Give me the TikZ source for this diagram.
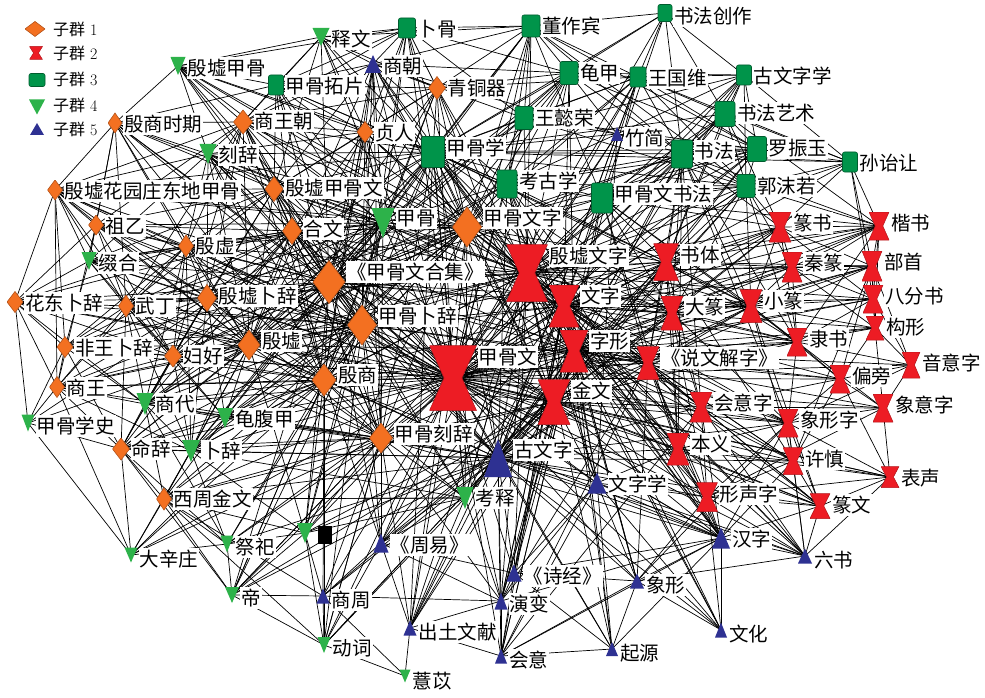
\documentclass[tikz,border=0pt]{standalone}
\usepackage{fontspec}
\newfontfamily\cjk{Noto Sans CJK SC}
\usetikzlibrary{calc,backgrounds}
\definecolor{qorange}{HTML}{F37021}
\definecolor{qorangedk}{HTML}{B4531A}
\definecolor{qred}{HTML}{ED1C24}
\definecolor{qgreen}{HTML}{00944A}
\definecolor{qgreendk}{HTML}{005C2E}
\definecolor{qlime}{HTML}{2DB24A}
\definecolor{qblue}{HTML}{2E3192}
\tikzset{
	mk/.style 2 args={inner sep=0pt, outer sep=0pt, minimum width=#1pt, minimum height=#2pt},
	dmd/.style 2 args={mk={#1}{#2}, path picture={\fill[qorange, draw=qorangedk, line width=0.6pt] (path picture bounding box.north) -- (path picture bounding box.east) -- (path picture bounding box.south) -- (path picture bounding box.west) -- cycle;}},
	hgl/.style 2 args={mk={#1}{#2}, path picture={\fill[qred, draw=qred!75!black, line width=0.5pt] (path picture bounding box.north west) -- (path picture bounding box.north east) -- ($(path picture bounding box.center)!.38!(path picture bounding box.east)$) -- (path picture bounding box.south east) -- (path picture bounding box.south west) -- ($(path picture bounding box.center)!.38!(path picture bounding box.west)$) -- cycle;}},
	sqr/.style 2 args={mk={#1}{#2}, fill=qgreen, draw=qgreendk, line width=0.6pt, rounded corners=2pt},
	dtri/.style 2 args={mk={#1}{#2}, path picture={\fill[qlime] (path picture bounding box.north west) -- (path picture bounding box.north east) -- (path picture bounding box.south) -- cycle;}},
	utri/.style 2 args={mk={#1}{#2}, path picture={\fill[qblue] (path picture bounding box.south west) -- (path picture bounding box.south east) -- (path picture bounding box.north) -- cycle;}},
	lab/.style={fill=white, inner xsep=1pt, inner ysep=2pt, anchor=north west, font=\cjk\fontsize{19.5}{19.5}\selectfont},
	legt/.style={anchor=west, inner sep=0pt, font=\fontsize{16}{16}\selectfont},
	lnk/.style={line width=0.7pt, black}
}
\def\lbl(#1)#2{\node[lab] (#1-t) at ([xshift=1pt]#1.north east) {#2};}

\begin{document}
\begin{tikzpicture}[x=1pt,y=-1pt]
	%%%%% START %%%%%
	\useasboundingbox (0,0) rectangle (985,698);
	
	% legend
	\node[dmd={20}{15}] (lg1) at (35,29) {};
	\node[hgl={13}{13}] (lg2) at (36,53) {};
	\node[sqr={16}{13}] (lg3) at (37,80) {};
	\node[dtri={16}{15}] (lg4) at (37,107) {};
	\node[utri={14}{12}] (lg5) at (37,129) {};
	\node[legt] (lg1-t) at (53,29) {{\cjk 子群} 1};
	\node[legt] (lg2-t) at (53,53) {{\cjk 子群} 2};
	\node[legt] (lg3-t) at (53,79) {{\cjk 子群} 3};
	\node[legt] (lg4-t) at (53,105) {{\cjk 子群} 4};
	\node[legt] (lg5-t) at (53,129) {{\cjk 子群} 5};
	
	% subgroup 1
	\node[dmd={14}{20}] (ysqs) at (115,123) {};
	\node[dmd={19}{24}] (swc) at (243,122) {};
	\node[dmd={17}{23}] (qtq) at (437,88) {};
	\node[dmd={16}{21}] (zr) at (365,132) {};
	\node[dmd={15}{20}] (hyz) at (55,190) {};
	\node[dmd={18}{25}] (yxjgw) at (274,189) {};
	\node[dmd={15}{20}] (zy) at (96,225) {};
	\node[dmd={19}{27}] (hw) at (292,231) {};
	\node[dmd={29}{40}] (jgwz) at (467,227) {};
	\node[dmd={15}{22}] (yxu) at (186,246) {};
	\node[dmd={32}{43}] (hj) at (329,282) {};
	\node[dmd={19}{27}] (yxbc) at (207,298) {};
	\node[dmd={15}{22}] (wd) at (126,306) {};
	\node[dmd={16}{21}] (hdbc) at (15,302) {};
	\node[dmd={29}{40}] (jgbc) at (362,325) {};
	\node[dmd={16}{21}] (fwbc) at (65,347) {};
	\node[dmd={22}{30}] (yx) at (249,345) {};
	\node[dmd={17}{22}] (fh) at (173,356) {};
	\node[dmd={24}{32}] (ys) at (324,380) {};
	\node[dmd={15}{21}] (shw) at (57,387) {};
	\node[dmd={23}{30}] (jgkc) at (381,438) {};
	\node[dmd={17}{22}] (mc) at (121,449) {};
	\node[dmd={15}{22}] (xzjw) at (164,499) {};
	
	% subgroup 2
	\node[hgl={47}{65}] (jgw) at (453,378) {};
	\node[hgl={41}{57}] (yxwz) at (527,273) {};
	\node[hgl={30}{42}] (wz) at (564,306) {};
	\node[hgl={28}{42}] (zx) at (574,351) {};
	\node[hgl={32}{45}] (jw) at (554,402) {};
	\node[hgl={25}{37}] (st) at (666,262) {};
	\node[hgl={22}{30}] (zs) at (780,227) {};
	\node[hgl={20}{28}] (ks) at (879,226) {};
	\node[hgl={20}{30}] (qz) at (792,267) {};
	\node[hgl={20}{30}] (bs) at (872,266) {};
	\node[hgl={22}{34}] (dz) at (672,313) {};
	\node[hgl={22}{33}] (xz) at (751,306) {};
	\node[hgl={20}{28}] (bfs) at (873,299) {};
	\node[hgl={18}{24}] (gx) at (875,328) {};
	\node[hgl={20}{28}] (ls) at (797,342) {};
	\node[hgl={18}{26}] (yyz) at (911,365) {};
	\node[hgl={22}{33}] (swjz) at (648,363) {};
	\node[hgl={20}{28}] (pp) at (840,379) {};
	\node[hgl={22}{30}] (hyzi) at (701,407) {};
	\node[hgl={20}{28}] (xyz) at (883,408) {};
	\node[hgl={20}{28}] (xxz) at (788,423) {};
	\node[hgl={22}{32}] (by) at (678,449) {};
	\node[hgl={20}{27}] (xs) at (793,461) {};
	\node[hgl={18}{21}] (bsh) at (890,477) {};
	\node[hgl={21}{29}] (xsz) at (707,497) {};
	\node[hgl={20}{25}] (zw) at (820,506) {};
	
	% subgroup 3
	\node[sqr={17}{20}] (bg) at (407,28) {};
	\node[sqr={18}{22}] (zzb) at (531,26) {};
	\node[sqr={14}{17}] (sfcz) at (665,13) {};
	\node[sqr={18}{23}] (gj) at (569,73) {};
	\node[sqr={16}{20}] (wgw) at (638,77) {};
	\node[sqr={15}{20}] (gwzx) at (744,75) {};
	\node[sqr={15}{20}] (jgtp) at (276,85) {};
	\node[sqr={18}{23}] (wyr) at (524,118) {};
	\node[sqr={20}{25}] (sfys) at (725,114) {};
	\node[sqr={23}{31}] (jgx) at (433,152) {};
	\node[sqr={20}{28}] (kgx) at (507,184) {};
	\node[sqr={21}{28}] (sf) at (682,154) {};
	\node[sqr={19}{25}] (lzy) at (757,149) {};
	\node[sqr={15}{20}] (syr) at (850,162) {};
	\node[sqr={21}{30}] (jgwsf) at (602,198) {};
	\node[sqr={18}{23}] (gmr) at (746,186) {};
	
	% subgroup 4
	\node[dtri={17}{18}] (shiw) at (321,37) {};
	\node[dtri={15}{18}] (yxjg) at (178,66) {};
	\node[dtri={17}{20}] (kc) at (208,154) {};
	\node[dtri={23}{30}] (jgu) at (383,223) {};
	\node[dtri={15}{18}] (zh) at (89,261) {};
	\node[dtri={13}{17}] (jgxs) at (28,423) {};
	\node[dtri={17}{22}] (sd) at (145,404) {};
	\node[dtri={16}{20}] (gfj) at (225,418) {};
	\node[dtri={18}{22}] (bc) at (191,451) {};
	\node[dtri={13}{15}] (dxz) at (131,555) {};
	\node[dtri={13}{17}] (js) at (227,544) {};
	\node[dtri={14}{16}] (di) at (232,595) {};
	\node[dtri={16}{20}] (wt) at (305,533) {};
	\node[dtri={13}{16}] (dc) at (324,645) {};
	\node[dtri={17}{22}] (kaos) at (465,498) {};
	\node[dtri={11}{13}] (yy) at (405,676) {};
	
	% subgroup 5
	\node[utri={16}{18}] (sc) at (373,64) {};
	\node[utri={12}{14}] (zj) at (617,134) {};
	\node[utri={28}{38}] (gwz) at (498,458) {};
	\node[utri={19}{21}] (wzx) at (597,483) {};
	\node[utri={15}{19}] (zyi) at (381,543) {};
	\node[utri={15}{17}] (sj) at (514,573) {};
	\node[utri={13}{15}] (szh) at (323,596) {};
	\node[utri={13}{17}] (yb) at (501,601) {};
	\node[utri={13}{15}] (ctwx) at (410,628) {};
	\node[utri={12}{15}] (hy) at (501,656) {};
	\node[utri={14}{15}] (xx) at (637,581) {};
	\node[utri={12}{14}] (qy) at (612,649) {};
	\node[utri={18}{21}] (hz) at (721,538) {};
	\node[utri={14}{15}] (lsh) at (805,556) {};
	\node[utri={12}{15}] (wh) at (721,630) {};
	
	% labels
	\lbl(ysqs){殷商时期} \lbl(swc){商王朝} \lbl(qtq){青铜器} \lbl(zr){贞人}
	\lbl(hyz){殷墟花园庄东地甲骨} \lbl(yxjgw){殷墟甲骨文} \lbl(zy){祖乙} \lbl(hw){合文}
	\lbl(jgwz){甲骨文字} \lbl(yxu){殷虚} \lbl(hj){《甲骨文合集》} \lbl(yxbc){殷墟卜辞}
	\lbl(wd){武丁} \lbl(hdbc){花东卜辞} \lbl(jgbc){甲骨卜辞} \lbl(fwbc){非王卜辞}
	\lbl(yx){殷墟} \lbl(fh){妇好} \lbl(ys){殷商} \lbl(shw){商王}
	\lbl(jgkc){甲骨刻辞} \lbl(mc){命辞} \lbl(xzjw){西周金文}
	
	\lbl(jgw){甲骨文} \lbl(yxwz){殷墟文字} \lbl(wz){文字} \lbl(zx){字形} \lbl(jw){金文}
	\lbl(st){书体} \lbl(zs){篆书} \lbl(ks){楷书} \lbl(qz){秦篆} \lbl(bs){部首}
	\lbl(dz){大篆} \lbl(xz){小篆} \lbl(bfs){八分书} \lbl(gx){构形} \lbl(ls){隶书}
	\lbl(yyz){音意字} \lbl(swjz){《说文解字》} \lbl(pp){偏旁} \lbl(hyzi){会意字}
	\lbl(xyz){象意字} \lbl(xxz){象形字} \lbl(by){本义} \lbl(xs){许慎}
	\lbl(bsh){表声} \lbl(xsz){形声字} \lbl(zw){篆文}
	
	\lbl(bg){卜骨} \lbl(zzb){董作宾} \lbl(sfcz){书法创作} \lbl(gj){龟甲}
	\lbl(wgw){王国维} \lbl(gwzx){古文字学} \lbl(jgtp){甲骨拓片} \lbl(wyr){王懿荣}
	\lbl(sfys){书法艺术} \lbl(jgx){甲骨学} \lbl(kgx){考古学} \lbl(sf){书法}
	\lbl(lzy){罗振玉} \lbl(syr){孙诒让} \lbl(jgwsf){甲骨文书法} \lbl(gmr){郭沫若}
	
	\lbl(shiw){释文} \lbl(yxjg){殷墟甲骨} \lbl(kc){刻辞} \lbl(jgu){甲骨}
	\lbl(zh){缀合} \lbl(jgxs){甲骨学史} \lbl(sd){商代} \lbl(gfj){龟腹甲}
	\lbl(bc){卜辞} \lbl(dxz){大辛庄} \lbl(js){祭祀} \lbl(di){帝}
	\lbl(dc){动词} \lbl(kaos){考释} \lbl(yy){薏苡}
	\node[fill=black, anchor=north west, minimum width=14pt, minimum height=18pt, inner sep=0pt] (wt-t) at ([xshift=5pt,yshift=-3pt]wt.north east) {};
	
	\lbl(sc){商朝} \lbl(zj){竹简} \lbl(gwz){古文字} \lbl(wzx){文字学}
	\lbl(zyi){《周易》} \lbl(sj){《诗经》} \lbl(szh){商周} \lbl(yb){演变}
	\lbl(ctwx){出土文献} \lbl(hy){会意} \lbl(xx){象形} \lbl(qy){起源}
	\lbl(hz){汉字} \lbl(lsh){六书} \lbl(wh){文化}
	
	% links
	\begin{scope}[on background layer]
	\foreach \src/\nbs in {%
		jgw/{yxwz,wz,zx,jw,gwz,jgwz,hj,jgbc,jgx,jgu,ys,yx,jgkc,swjz,st,dz,xz,zs,ks,ls,by,hyzi,xxz,xsz,xs,zw,hz,wzx,sf,sfys,jgwsf,kgx,wyr,lzy,gmr,wgw,zzb,gj,bg,zr,yxjgw,hw,yxu,yxbc,wd,fh,mc,bc,sd,gfj,kc,swc,qtq,sc,zj,kaos,zyi,sj,yb,ctwx,hy,xx,qy,lsh,wh,pp,bs,qz,bfs,gx,yyz,xyz,bsh,xzjw,hyz,zy,hdbc,fwbc,shw,zh,ysqs,jgtp,yxjg,shiw,sfcz,gwzx,syr,dxz,js,di,dc,szh,wt},%
		yxwz/{wz,zx,jw,gwz,jgwz,hj,jgbc,jgx,jgu,ys,yx,jgkc,swjz,st,dz,xz,zs,ks,ls,qz,bs,bfs,hyzi,xxz,by,xsz,sf,jgwsf,kgx,wyr,lzy,gmr,wgw,zzb,gj,zr,yxjgw,hw,yxbc,fh,wd,bc,swc,qtq,sc,zj,kaos,wzx,hz,sfys,syr,gwzx,yxjg,kc,yxu},%
		wz/{zx,jw,gwz,jgwz,hj,jgbc,jgx,jgu,st,dz,xz,zs,ks,ls,swjz,by,hyzi,xxz,xsz,xs,zw,hz,wzx,pp,gx,bs,sf,jgwsf,kgx,gj,wgw,lzy,gmr,yx,ys,jgkc,yb,xx,sj,qtq,zr,hw,bfs,qz,yxjgw,sfys},%
		zx/{jw,gwz,jgwz,swjz,st,dz,xz,zs,ls,ks,by,hyzi,xxz,xsz,xs,zw,pp,gx,bs,hz,wzx,jgu,hj,jgbc,jgkc,sf,jgwsf,xx,hy,qy,yb,kaos,ys,yx,gj,kgx,bfs,yyz,xyz,hw,jgx},%
		jw/{gwz,jgwz,jgx,jgbc,hj,st,dz,xz,zs,ls,swjz,by,hyzi,xxz,xsz,zw,hz,wzx,qtq,szh,xzjw,ys,yx,jgkc,kaos,zyi,sj,yb,ctwx,wgw,lzy,gmr,kgx,sf,jgwsf,bsh,wt,sc,di,yxjgw,hw},%
		gwz/{jgwz,jgx,jgbc,hj,jgkc,ys,yx,kaos,wzx,hz,xx,hy,qy,wh,lsh,sj,yb,zyi,ctwx,swjz,xxz,xsz,hyzi,by,xs,zw,dz,xz,st,gwzx,kgx,lzy,wgw,gmr,szh,dc,di,wt,bc,sd,mc,js,xzjw,zj,gfj,yxjgw,hw},%
		jgwz/{jgx,jgu,hj,jgbc,yx,ys,jgkc,yxjgw,hw,yxu,yxbc,zr,swc,qtq,sc,kgx,wyr,lzy,gmr,wgw,zzb,gj,bg,jgtp,sf,jgwsf,st,dz,kaos,fh,wd,kc,bc,sd,gfj,yxjg,shiw,hyz,swjz,xz},%
		hj/{jgx,jgu,jgbc,yx,ys,jgkc,yxjgw,hw,yxu,yxbc,wd,fh,fwbc,hdbc,zy,shw,mc,zr,swc,ysqs,kc,bc,sd,gfj,zh,jgtp,yxjg,gj,bg,kgx,zzb,wyr,hyz,sc,qtq,shiw,st,swjz,dz,xz,sf,jgwsf},%
		jgbc/{jgx,jgu,yx,ys,jgkc,yxjgw,hw,yxu,yxbc,wd,fh,fwbc,hdbc,zy,shw,mc,zr,swc,ysqs,kc,bc,sd,gfj,dxz,js,di,kaos,xzjw,hyz,sc,gj,bg,jgtp,zh,wt,dc,st,swjz,hz,wzx},%
		jgx/{jgu,yx,ys,kgx,wyr,lzy,gmr,wgw,zzb,gj,bg,sf,sfys,jgwsf,gwzx,syr,sfcz,jgtp,yxjg,shiw,sc,qtq,zr,swc,kc,yxjgw,hw,zj,st,jgkc,jgxs,hyz,dz,xz,swjz,hz},%
		jgu/{yx,ys,jgkc,yxjgw,hw,yxu,yxbc,swc,zr,qtq,sc,kc,jgtp,yxjg,bg,gj,kgx,wyr,zzb,fh,wd,zy,zh,hyz,ysqs,bc,gfj,sd},%
		yx/{ys,jgkc,yxjgw,hw,yxu,yxbc,wd,fh,fwbc,hdbc,zy,shw,mc,zr,swc,ysqs,kc,bc,sd,gfj,zh,hyz,kgx,qtq,sc,xzjw,jgxs},%
		ys/{jgkc,yxjgw,hw,yxu,yxbc,wd,fh,fwbc,shw,mc,zr,swc,ysqs,kc,bc,sd,gfj,qtq,sc,szh,xzjw,zyi,kaos,wt,dc,di,js,dxz,kgx,swjz,hz},%
		jgkc/{yxjgw,hw,yxbc,wd,fh,shw,mc,zr,kc,bc,sd,gfj,xzjw,kaos,zyi,szh,wt,dc,di,js,dxz,ctwx,sc,yb,hz},%
		kgx/{zj,sc,jgtp,st,swjz,hz,wzx,dz},%
		yxjgw/{hyz,yxjg,ysqs,kc,swc,zr,hw,yxu,yxbc,zy,zh,wd,fh,jgtp,shiw,sc,qtq},%
		hw/{yxu,yxbc,wd,fh,zy,zh,kc,swc,zr,fwbc,hdbc,sd,bc,mc,jgtp},%
		yxu/{yxbc,wd,zy,zh,fh,kc,swc,ysqs,hyz,fwbc,hdbc,shw,sd,bc},%
		yxbc/{wd,fh,fwbc,hdbc,shw,mc,zh,zy,kc,swc,sd,bc,gfj,hyz},%
		wd/{hdbc,fh,fwbc,shw,zy,zh,mc,sd,bc,gfj,hyz,ysqs,swc},%
		fh/{fwbc,hdbc,shw,mc,sd,bc,gfj,hyz,zy,zh,swc},%
		fwbc/{hdbc,shw,hyz,zh,jgxs,sd,mc},%
		hdbc/{hyz,shw,jgxs,zh,zy,sd},%
		shw/{hyz,jgxs,mc,sd,bc,zy,dxz},%
		mc/{sd,bc,gfj,xzjw,dxz,js,di,jgxs},%
		xzjw/{bc,sd,gfj,dxz,js,di,dc,kaos,wt,szh},%
		swc/{ysqs,kc,zr,qtq,sc,yxjg,jgtp,shiw,bg,zy,hyz},%
		ysqs/{kc,yxjg,hyz,zy,zh,jgtp},%
		zr/{qtq,sc,kc,yxjg,jgtp,bg,shiw},%
		qtq/{sc,bg,jgtp,gj,shiw,zzb,wgw},%
		bg/{zzb,shiw,gj,sc,jgtp,wyr,yxjg},%
		zzb/{gj,wgw,wyr,lzy,gmr,sfcz,sf,jgwsf,kgx,sc,shiw},%
		sfcz/{sf,sfys,gwzx,wgw,gj,jgwsf},%
		gj/{wgw,wyr,kgx,zj,sf,gwzx,lzy,sc},%
		wgw/{lzy,gmr,wyr,gwzx,sfys,sf,zj,kgx,syr},%
		gwzx/{sfys,lzy,gmr,sf,syr,zj,st},%
		wyr/{lzy,kgx,zj,gmr,sc},%
		sfys/{sf,lzy,gmr,jgwsf,st,syr,ks,zs},%
		sf/{lzy,gmr,jgwsf,st,ks,zs,xz,dz,ls,kgx,zj,syr,swjz,by,hyzi,xxz},%
		lzy/{gmr,syr,jgwsf,kgx,zj},%
		gmr/{jgwsf,syr,st,zs,ks,qz,ls,xz,dz,kgx},%
		syr/{ks,bs,bfs,zs},%
		jgwsf/{st,dz,kgx,zs,ks,xz,swjz,ls,by},%
		st/{dz,xz,zs,ks,ls,qz,bs,swjz,hyzi,by,xs},%
		dz/{xz,zs,ls,qz,swjz,hyzi,by,xxz,xsz},%
		xz/{zs,ls,qz,ks,bs,bfs,gx,swjz,pp,xs,zw},%
		zs/{ks,qz,ls,bs,bfs},%
		ks/{qz,bs,bfs,ls,gx},%
		qz/{bs,bfs,ls,gx},%
		bs/{bfs,gx,yyz,pp,xs,swjz},%
		bfs/{gx,ls,yyz},%
		gx/{pp,yyz,xyz,ls},%
		ls/{yyz,pp,xyz,xxz,swjz},%
		yyz/{pp,xyz,xxz},%
		swjz/{hyzi,xxz,xs,by,xsz,zw,pp,lsh,hz},%
		pp/{xyz,xxz,xs,hyzi,bsh},%
		hyzi/{xxz,by,xs,xsz,zw,xyz,lsh,hz},%
		xyz/{xxz,bsh,xsz},%
		xxz/{by,xs,xsz,zw,bsh,lsh,hz,xx},%
		by/{xs,xsz,zw,hz,wzx,bsh},%
		xs/{zw,bsh,xsz,lsh,hz},%
		bsh/{zw,xsz,lsh},%
		xsz/{zw,hz,lsh,wzx,xx,wh},%
		zw/{hz,lsh},%
		hz/{wh,wzx,lsh,xx,qy,hy,sj,yb},%
		wzx/{xx,qy,wh,hy,sj,yb,lsh,zj},%
		kaos/{wt,yb,ctwx,zyi,xzjw,bc,zx,wz,yxwz,hj,jgx},%
		zyi/{yb,ctwx,szh,dc,sj,wz,zx,yxwz,jgbc,hj},%
		ctwx/{yy,hy,wz,zx,yxwz,jgwz,jgx},%
		sj/{yb,qy,xx,hy,wz,zx,yxwz},%
		yb/{hy,szh,ctwx,zx,wz,yxwz,swjz},%
		szh/{dc,yy,wt,di},%
		dc/{yy,di,wt,gwz,jgkc,kaos},%
		wt/{hj,jgu,yx,jgwz},%
		di/{js,wt,jgkc,ys,hj},%
		hy/{xx,qy,zx,wz,swjz,hyzi},%
		qy/{wz,yxwz},%
		wh/{wz,zx,yxwz},%
		xx/{lsh,qy,wh,wz,swjz},%
		lsh/{wz,zx,yxwz},%
		js/{wt,bc,sd,dxz},%
		dxz/{jgxs,bc},%
		bc/{sd,gfj,wt},%
		sd/{gfj},%
		kc/{yxjg,zh,hyz},%
		zh/{zy,hyz},%
		zy/{hyz},%
		shiw/{sc,yxjg,jgtp},%
		sc/{jgtp},%
		jgtp/{yxjg},%
		zj/{sc}%
	}{\foreach \dst in \nbs {\draw[lnk] (\src.center) -- (\dst.center);}}
	\end{scope}
	
	%%%%% END %%%%%
\end{tikzpicture}
\end{document}
